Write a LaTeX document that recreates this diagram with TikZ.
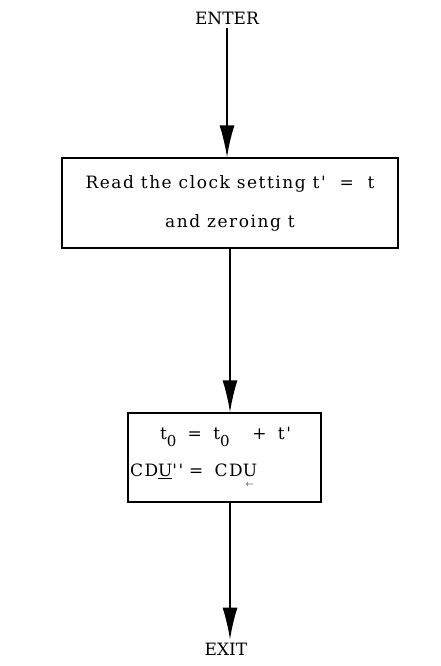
\documentclass[tikz,border=0pt]{standalone}
\usepackage{amsmath}
\usepackage{fontspec}
\setmainfont{DejaVu Serif}
\newfontfamily\typedfont[LetterSpace=9]{DejaVu Serif}
\usetikzlibrary{arrows.meta,positioning,calc}
\tikzset{
  box/.style={draw, line width=1.3pt, inner sep=2pt,
              font=\fontsize{17}{39}\typedfont},
  lbl/.style={font=\fontsize{17}{18}\selectfont, inner sep=3pt},
  flow/.style={-{Latex[length=32pt,width=15pt]}, line width=1.6pt},
}
\newcommand{\lowsub}[1]{\raisebox{-7pt}{\fontsize{15}{15}\typedfont #1}}
\begin{document}
\begin{tikzpicture}[x=1pt,y=-1pt]
    \useasboundingbox (0,0) rectangle (441,666);
    \node[lbl] (enter) at (227,18) {ENTER};
    \node[box, align=center, minimum width=336pt, minimum height=90pt]
      (read) at (230,203) {Read the clock setting t' \ = \ t\\and zeroing t};
    \node[box, align=left, text width=189pt, minimum height=89pt,
      font=\fontsize{17}{37}\typedfont]
      (update) at (224.5,457.5)
      {\hspace*{30pt}t\lowsub{0} \ = \ t\lowsub{0} \quad + \ t'\\
       CD\underline{U}'' = \ CD$\underset{\scriptscriptstyle\leftarrow}{\text{U}}$};
    \node[lbl] (exit) at (226,649) {EXIT};
    \coordinate (drop) at ([xshift=5.5pt]update.south);
    \draw[flow] (enter.south) -- (enter.south |- read.north);
    \draw[flow] (read.south) -- (read.south |- update.north);
    \draw[flow] (drop) -- (drop |- exit.north);
  \end{tikzpicture}
\end{document}
